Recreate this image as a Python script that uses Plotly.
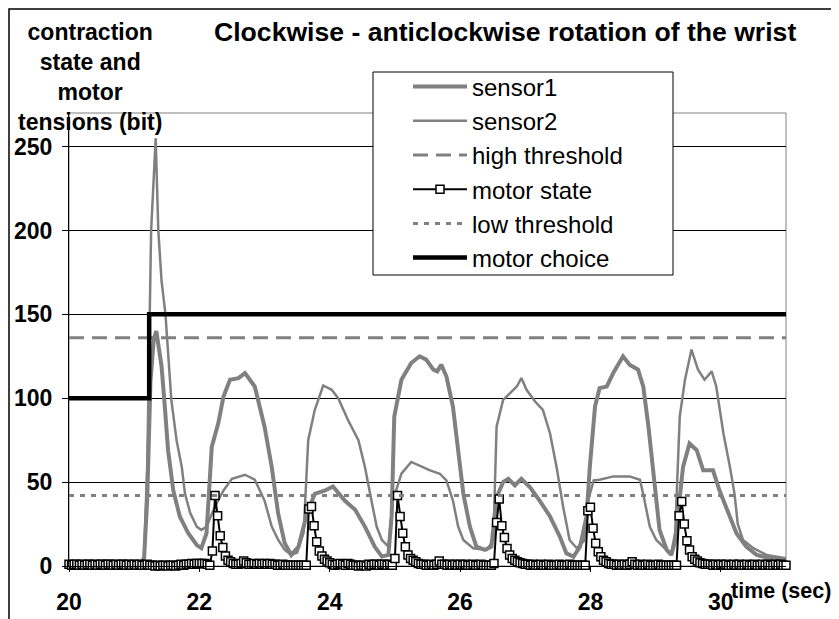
import plotly.graph_objects as go

# ---------------- data ----------------
sensor1_t = [20.0, 20.5, 21.0, 21.1, 21.15, 21.2, 21.25, 21.3, 21.34, 21.42, 21.47, 21.52, 21.6, 21.7,
             21.83, 21.96, 22.03, 22.11, 22.19, 22.29, 22.37, 22.47, 22.6, 22.7, 22.85, 23.0, 23.11,
             23.21, 23.31, 23.41, 23.52, 23.65, 23.77, 23.93, 24.05, 24.12, 24.23, 24.39, 24.54, 24.69,
             24.8, 24.9, 24.95, 24.99, 25.1, 25.25, 25.38, 25.48, 25.59, 25.65, 25.71, 25.79, 25.89,
             25.97, 26.05, 26.15, 26.25, 26.38, 26.48, 26.56, 26.66, 26.74, 26.84, 26.94, 27.07, 27.22,
             27.38, 27.53, 27.63, 27.74, 27.84, 27.94, 27.99, 28.07, 28.14, 28.25, 28.35, 28.5, 28.6,
             28.73, 28.81, 28.89, 28.96, 29.06, 29.17, 29.24, 29.3, 29.35, 29.42, 29.52, 29.63, 29.73,
             29.88, 29.98, 30.11, 30.24, 30.39, 30.55, 30.75, 31.0]
sensor1_v = [1.5, 1.5, 1.5, 2, 3, 40, 110, 135, 140, 119, 95, 69, 45, 29.5,
             19.5, 12.5, 10.6, 19.5, 71, 85, 101, 111, 112, 115, 107, 83, 59,
             31, 13.5, 6.6, 11.5, 31, 43, 45, 47.4, 44, 39, 33.5, 23.5, 11.5,
             5.6, 6.6, 30, 89, 111, 121, 125, 123, 117, 116, 120, 113, 95,
             69, 43, 23.5, 11.5, 9.6, 11.5, 41, 50, 52, 48, 52, 47, 39,
             29.5, 17.5, 7.6, 5.6, 11.5, 29.5, 59, 95, 106, 107, 115, 125, 120,
             117, 107, 83, 59, 21.5, 9.6, 6.6, 15, 35.5, 59, 73, 69, 57,
             57, 45, 31.5, 19.5, 11.5, 6.6, 4.6, 4]

sensor2_t = [20.0, 20.5, 21.0, 21.1, 21.15, 21.2, 21.26, 21.33, 21.37, 21.42, 21.48, 21.57, 21.65,
             21.73, 21.78, 21.86, 21.96, 22.03, 22.11, 22.24, 22.37, 22.5, 22.7, 22.85, 23.0, 23.11,
             23.21, 23.31, 23.41, 23.5, 23.6, 23.67, 23.77, 23.9, 24.03, 24.13, 24.28, 24.44, 24.54,
             24.64, 24.72, 24.8, 24.9, 24.97, 25.1, 25.25, 25.41, 25.54, 25.69, 25.79, 25.89, 25.97,
             26.05, 26.2, 26.41, 26.51, 26.56, 26.66, 26.74, 26.87, 26.94, 27.02, 27.15, 27.27, 27.38,
             27.48, 27.58, 27.68, 27.79, 27.9, 27.97, 28.05, 28.14, 28.35, 28.6, 28.76, 28.83, 28.91,
             29.01, 29.14, 29.24, 29.3, 29.37, 29.45, 29.55, 29.65, 29.75, 29.86, 29.93, 30.04, 30.14,
             30.21, 30.26, 30.34, 30.5, 30.7, 31.0]
sensor2_v = [2, 2, 2, 3, 5, 60, 200, 255, 200, 170, 150, 99, 75,
             59, 43, 31.5, 23.5, 21.5, 23.5, 35.5, 45, 52, 54.4, 51.4, 39, 23.5,
             15.5, 9.6, 6.6, 8, 20, 75, 93, 107.6, 105, 100, 87, 75, 59,
             39, 23.5, 15.5, 11.5, 39, 55, 62, 59, 57, 55, 51, 39, 23.5,
             15.5, 10.6, 9.6, 15.5, 83, 99, 102, 107, 112, 105, 98, 93, 79,
             59, 35.5, 15.5, 10.6, 15, 40, 51, 51.4, 53.4, 53.4, 51.4, 39, 23.5,
             15.5, 10.6, 7.6, 20, 89, 111, 129, 117, 111, 116, 107, 79, 59,
             43, 25, 15.5, 10.6, 6.6, 4.6]

# motor state sampled every 0.04 s from 20.00 s (one row per second)
motor_state_start = 20.0
motor_state_step = 0.04
motor_state_v = [
    1, 0.5, 1, 1, 0.5, 1, 0.5, 1, 1, 0.5, 1, 0.5, 1, 1, 0.5, 1, 1, 0.5, 1, 0.5, 1, 1, 0.5, 1, 0.5,
    1, 0.5, 1, 0.5, 0.5, 1, 0.5, 0.5, 0, 0.5, 0, 0.5, 0.5, 0, 0.5, 0.5, 0, 0.5, 1, 0.5, 1, 1, 1.5, 1, 1.5,
    1.5, 1.5, 1.5, 1, 0.5, 9, 42, 30, 18, 11, 6, 3.5, 2.5, 1.5, 1, 1, 1.5, 3, 2, 1, 1, 1.5, 1, 1.5, 1,
    1.5, 1, 1.5, 1, 1, 0.5, 0.5, 1, 0.5, 0.5, 0.5, 0.5, 0.5, 0.5, 0.5, 0.5, 0.5, 34, 35.5, 24, 14.5, 9, 6, 4, 3,
    2, 1, 0.5, 1, 1.5, 1, 0.5, 1.5, 1, 0.5, 0.5, 0, 0.5, 0.5, 0, 1, 0.5, 1, 1, 0.5, 1, 1, 0.5, 1, 0.5,
    4.5, 42, 29.5, 19.5, 11.5, 6.5, 4.5, 3.5, 2.5, 1.5, 1, 1, 0.5, 0.5, 1, 0.5, 1, 3, 1, 1, 0.5, 1, 0.5, 1, 0.5,
    1, 0.5, 1, 0.5, 0.5, 1, 0.5, 0.5, 1, 0.5, 0.5, 0.5, 0.5, 1.5, 26, 40, 24, 17, 10.5, 6.5, 4.5, 3.5, 2.5, 2, 1.5,
    1, 1, 0.5, 1, 0.5, 0.5, 1, 0.5, 0.5, 1, 0.5, 0.5, 0.5, 1, 0.5, 0.5, 0.5, 1, 0.5, 0.5, 0.5, 0.5, 0.5, 0.5, 33,
    35, 22.5, 13.5, 8.5, 5.5, 3.5, 2.5, 1.5, 1, 1, 0.5, 1, 0.5, 1, 0.5, 1, 2.5, 1, 0.5, 1, 0.5, 0.5, 1, 0.5, 0.5,
    0.5, 1, 0.5, 0.5, 0.5, 0.5, 0.5, 0.5, 0.5, 30, 38.5, 25, 15, 9.5, 5.5, 4, 3, 2, 1.5, 1, 1, 1, 0.5, 1, 0.5,
    1, 0.5, 1, 0.5, 0.5, 1, 0.5, 1, 0.5, 0.5, 1, 0.5, 0.5, 1, 0.5, 0.5, 1, 0.5, 1, 0.5, 0.5, 1, 0.5, 1, 0.5,
    0.5,
]
motor_state_t = [round(motor_state_start + motor_state_step * i, 2) for i in range(len(motor_state_v))]

motor_choice_t = [20.0, 21.23, 31.0]
motor_choice_v = [100, 150, 150]

threshold_t = [20.0, 31.0]
high_threshold = 136
low_threshold = 42

x_range = [20, 31]
y_range = [0, 270]
x_ticks = [20, 22, 24, 26, 28, 30]
y_ticks = [0, 50, 100, 150, 200, 250]

title_text = "Clockwise - anticlockwise rotation of the wrist"
y_title_text = "contraction<br>state and<br>motor<br>tensions (bit)"
x_title_text = "time (sec)"

# ---------------- layout helpers ----------------
# design coordinates are window pixels; the page body adds an 8px offset
OFF = 8
WIN_W, WIN_H = 839, 619
W, H = WIN_W - OFF, WIN_H - OFF
L, R, T, B = 69, 786, 113, 566  # plot area in window pixels
FONT = "Liberation Sans, Arial, sans-serif"
GRAY = "#808080"


def px(xp):
    return (xp - L) / (R - L)


def py(yp):
    return (B - yp) / (B - T)


fig = go.Figure()
fig.add_trace(go.Scatter(x=sensor1_t, y=sensor1_v, mode="lines", name="sensor1",
                         line=dict(color=GRAY, width=4)))
fig.add_trace(go.Scatter(x=sensor2_t, y=sensor2_v, mode="lines", name="sensor2",
                         line=dict(color=GRAY, width=2.5)))
fig.add_trace(go.Scatter(x=threshold_t, y=[high_threshold] * len(threshold_t), mode="lines",
                         name="high threshold", line=dict(color=GRAY, width=3, dash="15px,8px")))
fig.add_trace(go.Scatter(x=motor_state_t, y=motor_state_v, mode="lines+markers", name="motor state",
                         line=dict(color="black", width=2), cliponaxis=False,
                         marker=dict(symbol="square", size=8, color="white",
                                     line=dict(color="black", width=1.5))))
fig.add_trace(go.Scatter(x=threshold_t, y=[low_threshold] * len(threshold_t), mode="lines",
                         name="low threshold", line=dict(color=GRAY, width=3, dash="5px,6px")))
fig.add_trace(go.Scatter(x=motor_choice_t, y=motor_choice_v, mode="lines", name="motor choice",
                         line=dict(color="black", width=4.5, shape="hv")))

fig.update_layout(
    width=W, height=H,
    margin=dict(l=L - OFF, r=WIN_W - R, t=T - OFF, b=WIN_H - B, pad=0, autoexpand=False),
    paper_bgcolor="white", plot_bgcolor="white",
    font=dict(family=FONT, color="black"),
    showlegend=True,
    legend=dict(x=px(408), y=py(64.5), xanchor="left", yanchor="top",
                bgcolor="rgba(0,0,0,0)", borderwidth=0, itemwidth=54,
                font=dict(family=FONT, size=24, color="black"), traceorder="normal"),
    xaxis=dict(range=x_range, tickmode="array", tickvals=x_ticks,
               ticks="outside", ticklen=5, tickcolor="black", tickwidth=1,
               showline=True, linecolor="black", linewidth=1, showgrid=False, zeroline=False,
               tickfont=dict(family=FONT, size=23, color="black", weight="bold"),
               ticklabelstandoff=10),
    yaxis=dict(range=y_range, tickmode="array", tickvals=y_ticks,
               ticks="outside", ticklen=6, tickcolor="black", tickwidth=1,
               showline=True, linecolor="black", linewidth=1,
               showgrid=True, gridcolor="black", gridwidth=1, zeroline=False,
               tickfont=dict(family=FONT, size=23, color="black", weight="bold"),
               ticklabelstandoff=5),
    shapes=[
        dict(type="rect", xref="paper", yref="paper", x0=px(L), x1=px(R), y0=py(B), y1=py(T),
             line=dict(color=GRAY, width=1), layer="below"),
        dict(type="rect", xref="paper", yref="paper", x0=px(9), x1=px(860), y0=py(640), y1=py(9),
             line=dict(color="black", width=1.5), fillcolor="rgba(0,0,0,0)", layer="above"),
        dict(type="rect", xref="paper", yref="paper", x0=px(373), x1=px(673), y0=py(275), y1=py(72),
             line=dict(color="black", width=1), fillcolor="white", layer="above"),
    ],
    annotations=[
        dict(text=title_text, xref="paper", yref="paper", x=px(505.5), y=py(32),
             xanchor="center", yanchor="middle", showarrow=False,
             font=dict(family=FONT, size=26.6, color="black", weight="bold")),
        dict(text=y_title_text, xref="paper", yref="paper", x=px(90), y=py(77),
             xanchor="center", yanchor="middle", showarrow=False, align="center",
             font=dict(family=FONT, size=23, color="black", weight="bold")),
        dict(text=x_title_text, xref="paper", yref="paper", x=px(729), y=py(591),
             xanchor="left", yanchor="middle", showarrow=False,
             font=dict(family=FONT, size=21.5, color="black", weight="bold")),
    ],
)

fig.write_html("out.html")
